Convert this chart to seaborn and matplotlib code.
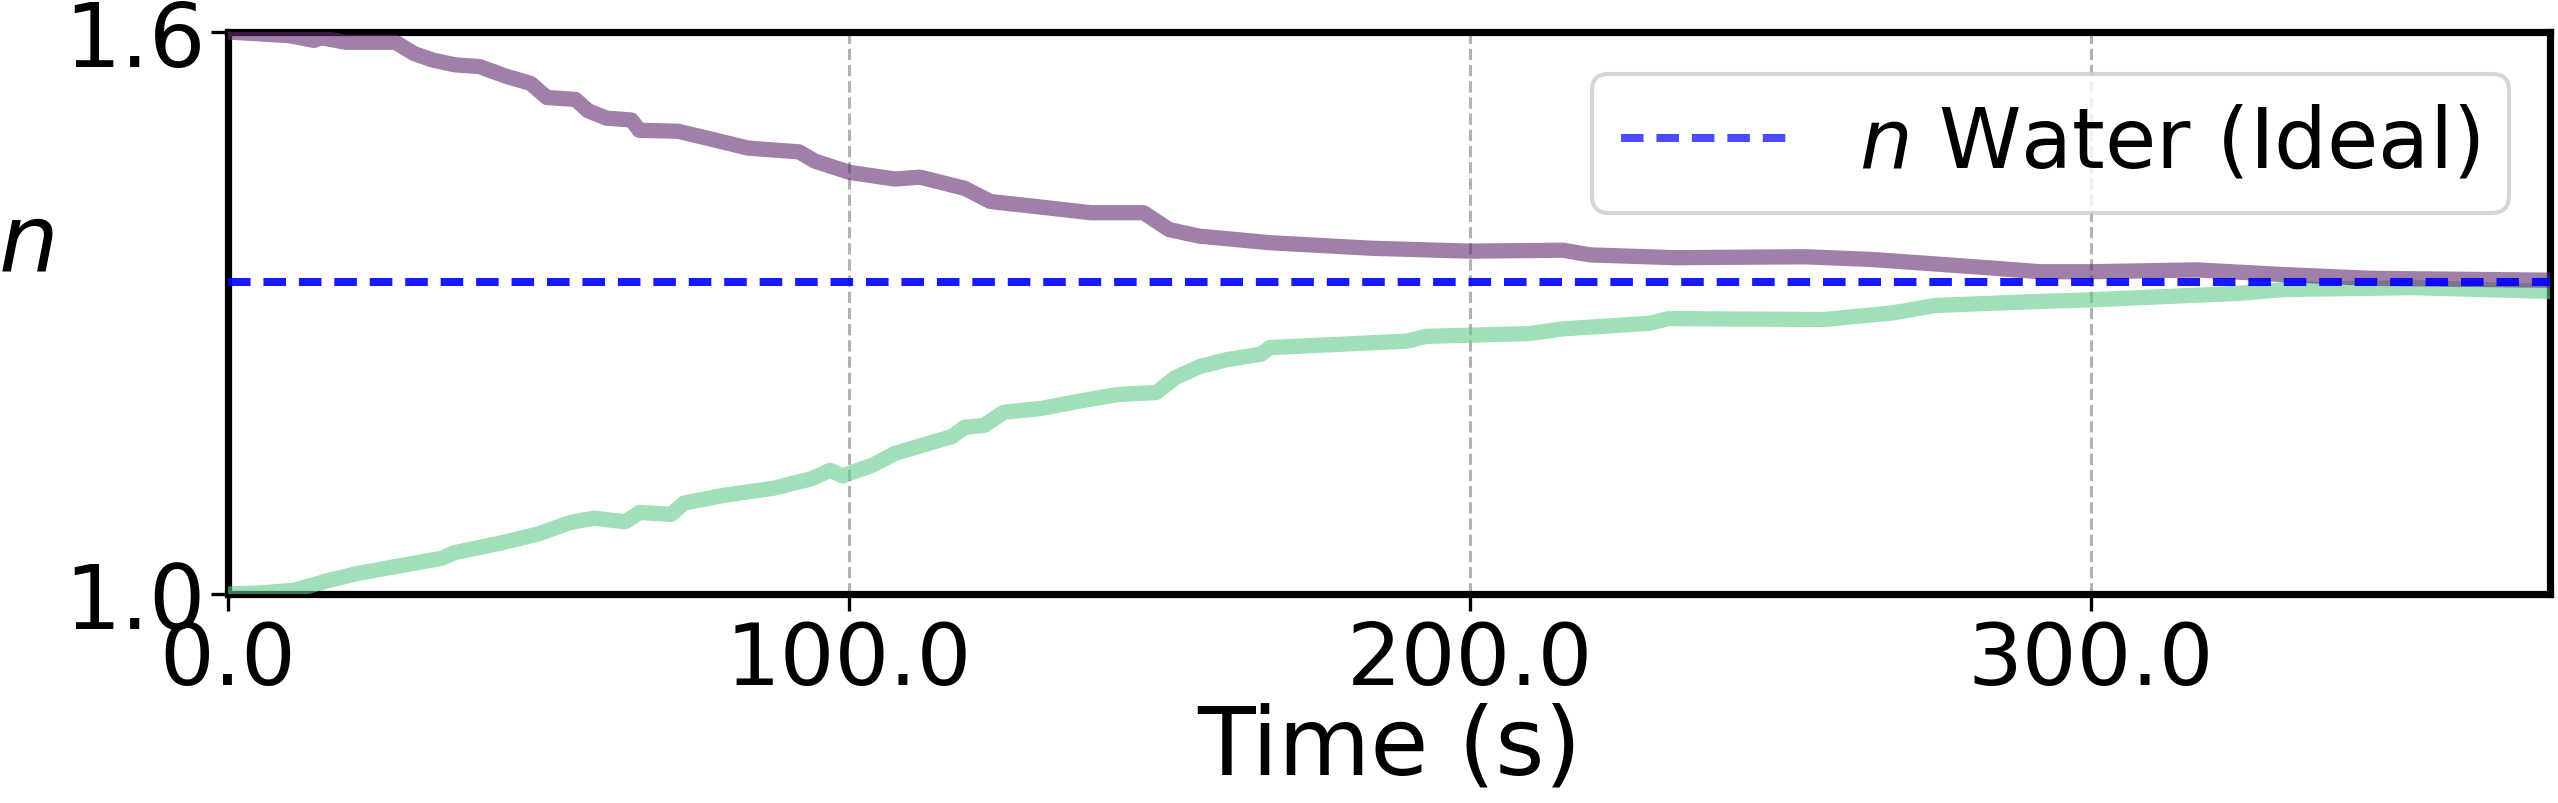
import numpy as np
import pandas as pd
import matplotlib
matplotlib.use("Agg")
import matplotlib.pyplot as plt
import seaborn as sns
from matplotlib.lines import Line2D

# ---- data ----
t_purple = [0, 5, 10, 13.9, 15, 19, 27, 30, 33, 36.5, 40.6, 44.7, 48.8, 51.4, 56, 58, 61, 65,
            66.3, 72.5, 77.6, 83.8, 92, 94.6, 100.2, 107.4, 111.5, 118.7, 122.8, 131, 139,
            147.5, 151.6, 156.5, 167.8, 184.5, 200, 215, 219.4, 233, 254, 265, 282, 291.9,
            300, 317, 331, 345, 359, 374]
n_purple = [1.600, 1.598, 1.596, 1.591, 1.594, 1.589, 1.589, 1.577, 1.570, 1.565, 1.563, 1.553,
            1.545, 1.530, 1.528, 1.516, 1.508, 1.506, 1.495, 1.494, 1.486, 1.476, 1.472, 1.462,
            1.450, 1.443, 1.445, 1.433, 1.419, 1.413, 1.407, 1.407, 1.389, 1.382, 1.375, 1.369,
            1.366, 1.367, 1.362, 1.359, 1.360, 1.357, 1.349, 1.344, 1.344, 1.346, 1.341, 1.337,
            1.336, 1.335]

t_green = [0, 5, 10.8, 16, 21, 26, 34.4, 36.5, 43.7, 50, 55, 59, 64, 66.3, 71.4, 73.5, 79.6,
           88, 94, 97, 99, 104, 107.4, 112.5, 116.6, 118.7, 121.8, 125, 131, 137.2, 143.4,
           149.5, 152.6, 156.6, 160.8, 166.4, 167.8, 190, 192.9, 209.6, 215, 229, 232, 257,
           268, 275, 290.5, 300, 324, 331, 352, 374]
n_green = [1.000, 1.001, 1.004, 1.014, 1.022, 1.028, 1.038, 1.044, 1.054, 1.064, 1.076, 1.081,
           1.077, 1.087, 1.085, 1.097, 1.105, 1.113, 1.123, 1.132, 1.126, 1.138, 1.150, 1.160,
           1.168, 1.178, 1.180, 1.194, 1.198, 1.206, 1.213, 1.215, 1.231, 1.243, 1.250, 1.256,
           1.263, 1.270, 1.275, 1.278, 1.283, 1.289, 1.294, 1.293, 1.300, 1.308, 1.312, 1.314,
           1.321, 1.325, 1.327, 1.323]

n_water_ideal = 1.333
legend_label = "$n$ Water (Ideal)"
x_ticks = [0, 100, 200, 300]
y_ticks = [1.0, 1.6]
x_limits = (0, 374)
y_limits = (1.0, 1.6)

# ---- plotting ----
sns.set_style("white")
plt.rcParams["font.family"] = ["DejaVu Sans"]
plt.rcParams.update({"text.color": "black", "axes.labelcolor": "black",
                     "xtick.color": "black", "ytick.color": "black"})

fig = plt.figure(figsize=(12.79, 4.02), dpi=200)
ax = fig.add_axes([0.089, 0.26, 0.908, 0.699])

df_p = pd.DataFrame({"t": t_purple, "n": n_purple})
df_g = pd.DataFrame({"t": t_green, "n": n_green})

sns.lineplot(data=df_g, x="t", y="n", ax=ax, color="#61cb89", alpha=0.6, lw=5.5,
             estimator=None, sort=False, zorder=3)
sns.lineplot(data=df_p, x="t", y="n", ax=ax, color="#612b71", alpha=0.6, lw=5.5,
             estimator=None, sort=False, zorder=3)
ax.axhline(n_water_ideal, color="blue", alpha=0.9, lw=2.9, ls=(0, (2.8, 1.6)), zorder=4)

ax.set_xlim(*x_limits)
ax.set_ylim(*y_limits)
ax.set_xticks(x_ticks)
ax.set_xticklabels([f"{v:.1f}" for v in x_ticks])
ax.set_yticks(y_ticks)
ax.set_yticklabels([f"{v:.1f}" for v in y_ticks])
ax.tick_params(axis="y", labelsize=32, length=6, width=1.2, color="black",
               direction="out", pad=2, left=True)
ax.tick_params(axis="x", labelsize=31, length=6, width=1.2, color="black",
               direction="out", pad=3, bottom=True)

ax.grid(True, color="gray", ls="--", lw=1.1, alpha=0.6, zorder=0)
ax.set_axisbelow(True)

for s in ax.spines.values():
    s.set_color("black")
    s.set_linewidth(2.6)

ax.set_xlabel("Time (s)", fontsize=34, labelpad=0)
ax.set_ylabel("$n$", fontsize=34, rotation=0)
ax.yaxis.set_label_coords(-0.087, 0.54)

handle = Line2D([0], [0], color="blue", alpha=0.7, lw=2.9, ls=(0, (2.8, 1.6)))
leg = ax.legend([handle], [legend_label], loc="upper right", fontsize=30,
                handlelength=2.0, handletextpad=0.85, borderpad=0.35,
                fancybox=True, framealpha=0.8)
leg.get_frame().set_edgecolor("#cccccc")
leg.get_frame().set_linewidth(1.5)

fig.savefig("out.png", dpi=200)
